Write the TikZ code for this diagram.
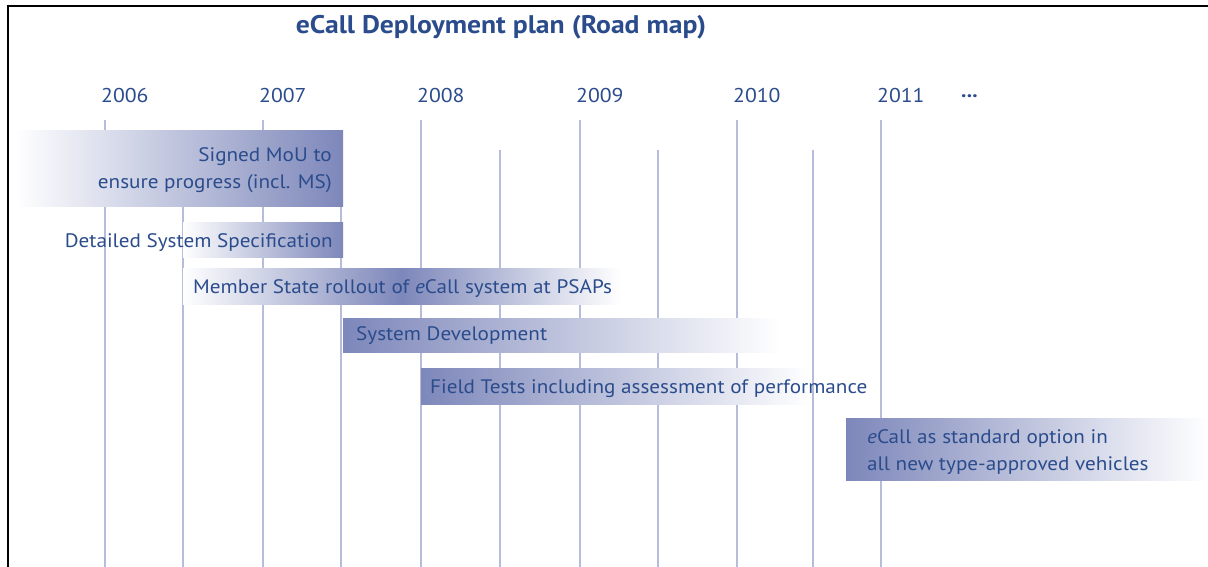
\documentclass[tikz,border=0pt]{standalone}
\usepackage{fontspec}
\setmainfont{PT Sans}[FakeStretch=1.085]
\usetikzlibrary{positioning}
\definecolor{ink}{HTML}{2B4C8C}
\definecolor{barblue}{HTML}{7D87BA}
\definecolor{gridblue}{HTML}{B7BCDB}

\begin{document}
\begin{tikzpicture}[x=1pt,y=-1pt,
  lbl/.style={text=ink,font=\fontsize{19.5}{27}\selectfont,inner sep=0pt},
  yr/.style={text=ink,font=\fontsize{20}{22}\selectfont,anchor=west,inner sep=0pt},
  gridline/.style={draw=gridblue,line width=1.3pt}]

\useasboundingbox (0,0) rectangle (1208,567);

% frame
\draw[line width=2.5pt] (7,6) -- (1208,6);
\draw[line width=2.5pt] (8,5) -- (8,567);

\node[text=ink,font=\bfseries\fontsize{25.5}{28}\selectfont] (title) at (501,27) {eCall Deployment plan (Road map)};

% years
\foreach \yr/\x in {2006/105,2007/263,2008/421,2009/580,2010/737,2011/881}
  \node[yr] (y\yr) at (\x-4,96) {\yr};
\node[yr,font=\bfseries\fontsize{20}{22}\selectfont] (more) at (961,96) {...};

\foreach \x in {105,263,421,580,737,881} \draw[gridline] (\x,120) -- (\x,567);
\foreach \x in {183,341,500,658,813} \draw[gridline] (\x,150) -- (\x,567);

% bars
\shade[left color=white,right color=barblue] (15,131) rectangle (343,206);
\shade[left color=white,right color=barblue] (183,222) rectangle (343,257);
\shade[left color=white,right color=white,middle color=barblue] (183,268) rectangle (620,304);
\shade[left color=barblue,right color=white] (343,318) rectangle (780,352);
\shade[left color=barblue,right color=white] (421,368) rectangle (810,404);
\shade[left color=barblue,right color=white] (846,418) rectangle (1208,480);

\node[lbl,anchor=east,align=right] (mou) at (332,170.5) {Signed MoU to\\ensure progress (incl. MS)};
\node[lbl,anchor=east] (spec) at (333,242.5) {Detailed System Specification};
\node[lbl,anchor=west] (rollout) at (193,288.5) {Member State rollout of \textit{e}Call system at PSAPs};
\node[lbl,anchor=west] (dev) at (356,335.5) {System Development};
\node[lbl,anchor=west] (field) at (430,388.5) {Field Tests including assessment of performance};
\node[lbl,anchor=west,align=left] (std) at (867,452.5) {\textit{e}Call as standard option in\\all new type-approved vehicles};

\end{tikzpicture}
\end{document}
